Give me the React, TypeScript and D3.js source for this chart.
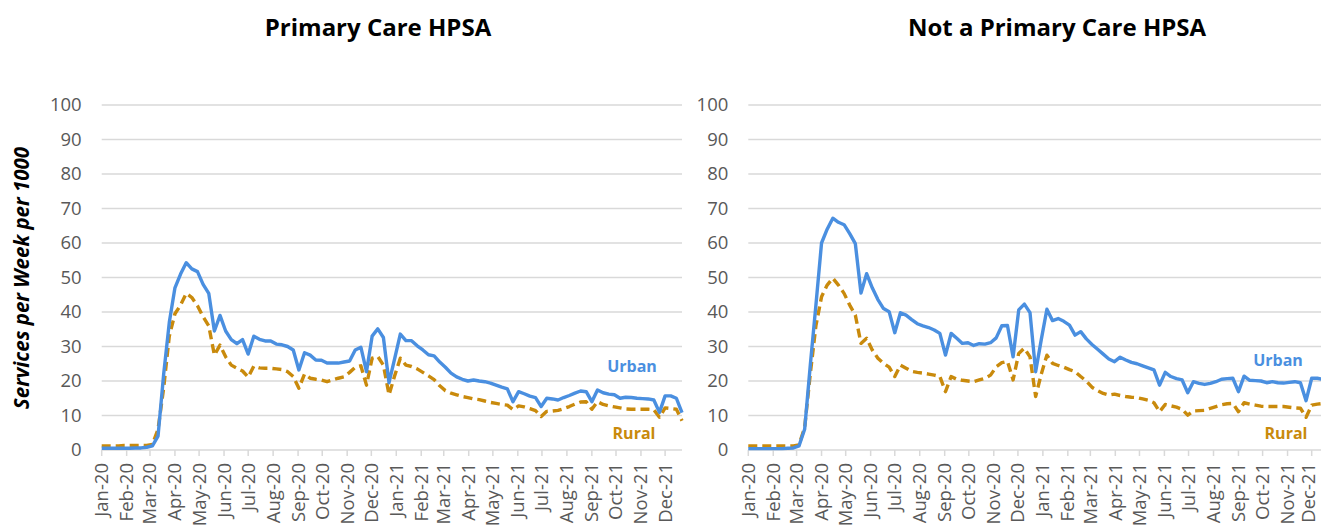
import React, { useEffect, useRef } from 'react';
import * as d3 from 'd3';

// weekly values, Jan 1 2020 .. Dec 22 2021 (104 weeks)
const hpsaUrban = [
    0.5, 0.5, 0.5, 0.5, 0.5, 0.5, 0.6, 0.6, 0.8, 1.2,
    4, 22, 37, 47, 51, 54.3, 52.5, 51.7, 48, 45.4,
    34.5, 39, 34.5, 32, 30.8, 32, 27.8, 33, 32.1, 31.6,
    31.6, 30.7, 30.5, 30, 29, 23.2, 28.2, 27.5, 26.1, 26,
    25.2, 25.2, 25.2, 25.5, 25.8, 29, 29.8, 22.7, 33, 35.1,
    32.6, 19.5, 26.5, 33.6, 31.7, 31.7, 30.2, 29, 27.6, 27.3,
    25.5, 24, 22.3, 21.2, 20.5, 20, 20.3, 20, 19.8, 19.4,
    18.8, 18.2, 17.7, 14, 16.9, 16.3, 15.6, 15.2, 12.6, 15,
    14.8, 14.5, 15.2, 15.8, 16.5, 17.1, 16.9, 14, 17.4, 16.6,
    16.2, 16, 15, 15.3, 15.2, 15, 14.9, 14.8, 14.5, 10.9,
    15.7, 15.7, 15, 10.8,
];
const hpsaRural = [
    1.2, 1.2, 1.2, 1.2, 1.3, 1.3, 1.3, 1.3, 1.3, 1.6,
    6, 18, 33, 39.5, 42, 45.4, 44.2, 41.8, 38.6, 36,
    27.5, 30.4, 27, 24.6, 23.7, 22.9, 21.1, 24.3, 23.8, 23.7,
    23.7, 23.5, 23.3, 22.7, 21.3, 17.9, 22, 20.8, 20.5, 20.3,
    19.8, 20.3, 20.8, 21.2, 22.5, 24, 24.4, 18.8, 26.6, 27.1,
    24.6, 16, 21.5, 26.6, 24.6, 24.2, 23.5, 22.5, 21.5, 20.4,
    18.6, 17.2, 16.5, 16, 15.5, 15.2, 14.8, 14.6, 14.2, 13.8,
    13.5, 13.2, 13, 11.7, 12.8, 12.5, 12, 11.4, 9.7, 11.2,
    11.3, 11.5, 12, 12.6, 13.3, 13.9, 14, 11.8, 14, 13.2,
    12.8, 12.5, 12.2, 11.9, 11.8, 11.8, 11.8, 11.8, 11.7, 9.5,
    12.2, 12, 11.8, 8.5,
];
const nonHpsaUrban = [
    0.4, 0.4, 0.4, 0.4, 0.4, 0.4, 0.4, 0.5, 0.6, 1.2,
    6, 24.5, 42, 60, 64, 67.2, 66, 65.3, 62.7, 59.8,
    45.5, 51.1, 47, 43.6, 41, 40.1, 34, 39.8, 39.1, 37.8,
    36.6, 36, 35.5, 34.8, 33.8, 27.5, 33.8, 32.4, 30.9, 31.1,
    30.3, 30.8, 30.7, 31.1, 32.5, 36, 36.1, 27, 40.6, 42.3,
    39.8, 22.7, 32, 40.8, 37.5, 38.1, 37.3, 36.2, 33.3, 34.3,
    32.2, 30.6, 29.2, 27.8, 26.4, 25.6, 26.9, 26.1, 25.4, 25,
    24.4, 23.8, 23.2, 18.8, 22.5, 21.3, 20.7, 20.3, 16.6, 19.8,
    19.3, 19, 19.3, 19.8, 20.5, 20.7, 20.8, 16.9, 21.4, 20.2,
    20.1, 20, 19.5, 19.8, 19.5, 19.4, 19.6, 19.8, 19.5, 14.3,
    20.8, 20.8, 20.5, 20,
];
const nonHpsaRural = [
    1.2, 1.2, 1.2, 1.2, 1.2, 1.2, 1.2, 1.2, 1.2, 1.5,
    6.5, 22, 36, 44.4, 47.8, 49.8, 47.8, 45.4, 42, 39.1,
    30.9, 32.4, 29, 26.6, 25.1, 24, 21.3, 24.6, 23.7, 22.8,
    22.5, 22.3, 22, 21.7, 21.3, 16.9, 21.3, 20.5, 20.2, 20,
    19.8, 20.3, 20.8, 21.7, 24.1, 25.3, 25.7, 20.3, 28, 29.5,
    27, 15.5, 22, 27.5, 25.1, 24.5, 24, 23.3, 22.7, 21.3,
    20, 18.2, 17.2, 16.4, 15.9, 16.2, 15.8, 15.5, 15.3, 15.2,
    14.8, 14.4, 13.7, 11.1, 13.2, 12.8, 12.4, 11.8, 10.1, 11.3,
    11.4, 11.5, 12.1, 12.6, 13.1, 13.4, 13.5, 11.1, 13.7, 13.3,
    13, 12.7, 12.6, 12.6, 12.6, 12.6, 12.4, 12.2, 12.1, 9.5,
    13, 13.3, 13.5, 13.5,
];

const titles = ['Primary Care HPSA', 'Not a Primary Care HPSA'];
const seriesNames = ['Urban', 'Rural'];
const yTicks = [0, 10, 20, 30, 40, 50, 60, 70, 80, 90, 100];
const yLabel = 'Services per Week per 1000';
const firstWeek = new Date(2020, 0, 1);
const lastWeek = new Date(2021, 11, 22);

const BLUE = '#4a8fe0';
const GOLD = '#c98a0c';
const GRID = '#d9d9d9';
const TEXT = '#595959';
const FONT = "'Open Sans', sans-serif";

const App: React.FC = () => {
    const ref = useRef<SVGSVGElement | null>(null);

    useEffect(() => {
        const svg = d3.select(ref.current);
        svg.selectAll('*').remove();

        const weeks = hpsaUrban.map((_, i) => d3.timeDay.offset(firstWeek, i * 7));
        const months = d3.timeMonth.range(new Date(2020, 0, 1), new Date(2022, 0, 1));
        const y = d3.scaleLinear().domain([0, 100]).range([450, 105]);

        const panels = [
            { left: 101.7, titleX: 378, title: titles[0], urban: hpsaUrban, rural: hpsaRural,
              urbanPos: [632, 372], ruralPos: [634, 439] },
            { left: 748.3, titleX: 1057, title: titles[1], urban: nonHpsaUrban, rural: nonHpsaRural,
              urbanPos: [1278, 366], ruralPos: [1286, 439] },
        ];

        panels.forEach(p => {
            const x = d3.scaleTime().domain([firstWeek, lastWeek]).range([p.left, p.left + 580.3]);
            const [x0, x1] = x.range();
            const g = svg.append('g');

            g.append('text')
                .attr('x', p.titleX).attr('y', 36)
                .attr('text-anchor', 'middle')
                .attr('font-family', FONT).attr('font-weight', 700).attr('font-size', 24)
                .attr('fill', '#000')
                .text(p.title);

            // gridlines
            g.selectAll('line.grid').data(yTicks.slice(1)).join('line')
                .attr('x1', x0).attr('x2', x1)
                .attr('y1', d => y(d)).attr('y2', d => y(d))
                .attr('stroke', GRID).attr('stroke-width', 1.3);

            g.selectAll('text.ytick').data(yTicks).join('text')
                .attr('x', x0 - 20).attr('y', d => y(d))
                .attr('dy', '0.35em')
                .attr('text-anchor', 'end')
                .attr('font-family', FONT).attr('font-size', 18.5)
                .attr('fill', TEXT)
                .text(d => d);

            // x axis
            g.append('line')
                .attr('x1', x0).attr('x2', x1).attr('y1', y(0)).attr('y2', y(0))
                .attr('stroke', GRID).attr('stroke-width', 1.5);
            g.selectAll('line.xtick').data(months).join('line')
                .attr('x1', d => x(d)).attr('x2', d => x(d))
                .attr('y1', y(0)).attr('y2', y(0) + 6)
                .attr('stroke', GRID).attr('stroke-width', 1.5);
            g.selectAll('text.xtick').data(months).join('text')
                .attr('transform', d => `translate(${Math.min(x(d), 1309)},${y(0) + 13}) rotate(-90)`)
                .attr('dy', '0.35em')
                .attr('text-anchor', 'end')
                .attr('font-family', FONT).attr('font-size', 18.5)
                .attr('fill', TEXT)
                .text(d => d3.timeFormat('%b-%y')(d));

            const line = d3.line<number>()
                .x((_, i) => x(weeks[i]))
                .y(d => y(d));

            g.append('path')
                .datum(p.rural)
                .attr('fill', 'none')
                .attr('stroke', GOLD)
                .attr('stroke-width', 3.4)
                .attr('stroke-dasharray', '9,5')
                .attr('stroke-linejoin', 'round')
                .attr('d', line);

            g.append('path')
                .datum(p.urban)
                .attr('fill', 'none')
                .attr('stroke', BLUE)
                .attr('stroke-width', 3.4)
                .attr('stroke-linejoin', 'round')
                .attr('d', line);

            g.append('text')
                .attr('x', p.urbanPos[0]).attr('y', p.urbanPos[1])
                .attr('text-anchor', 'middle')
                .attr('font-family', FONT).attr('font-weight', 700).attr('font-size', 16)
                .attr('fill', BLUE)
                .text(seriesNames[0]);
            g.append('text')
                .attr('x', p.ruralPos[0]).attr('y', p.ruralPos[1])
                .attr('text-anchor', 'middle')
                .attr('font-family', FONT).attr('font-weight', 700).attr('font-size', 16)
                .attr('fill', GOLD)
                .text(seriesNames[1]);
        });

        svg.append('text')
            .attr('transform', 'translate(29,278) rotate(-90)')
            .attr('text-anchor', 'middle')
            .attr('font-family', FONT).attr('font-weight', 700).attr('font-style', 'italic')
            .attr('font-size', 20.5)
            .attr('fill', '#000')
            .text(yLabel);
    }, []);

    return (
        <svg ref={ref} width={1321} height={527}
            style={{ position: 'absolute', left: 0, top: 0, overflow: 'hidden' }} />
    );
};

export default App;
